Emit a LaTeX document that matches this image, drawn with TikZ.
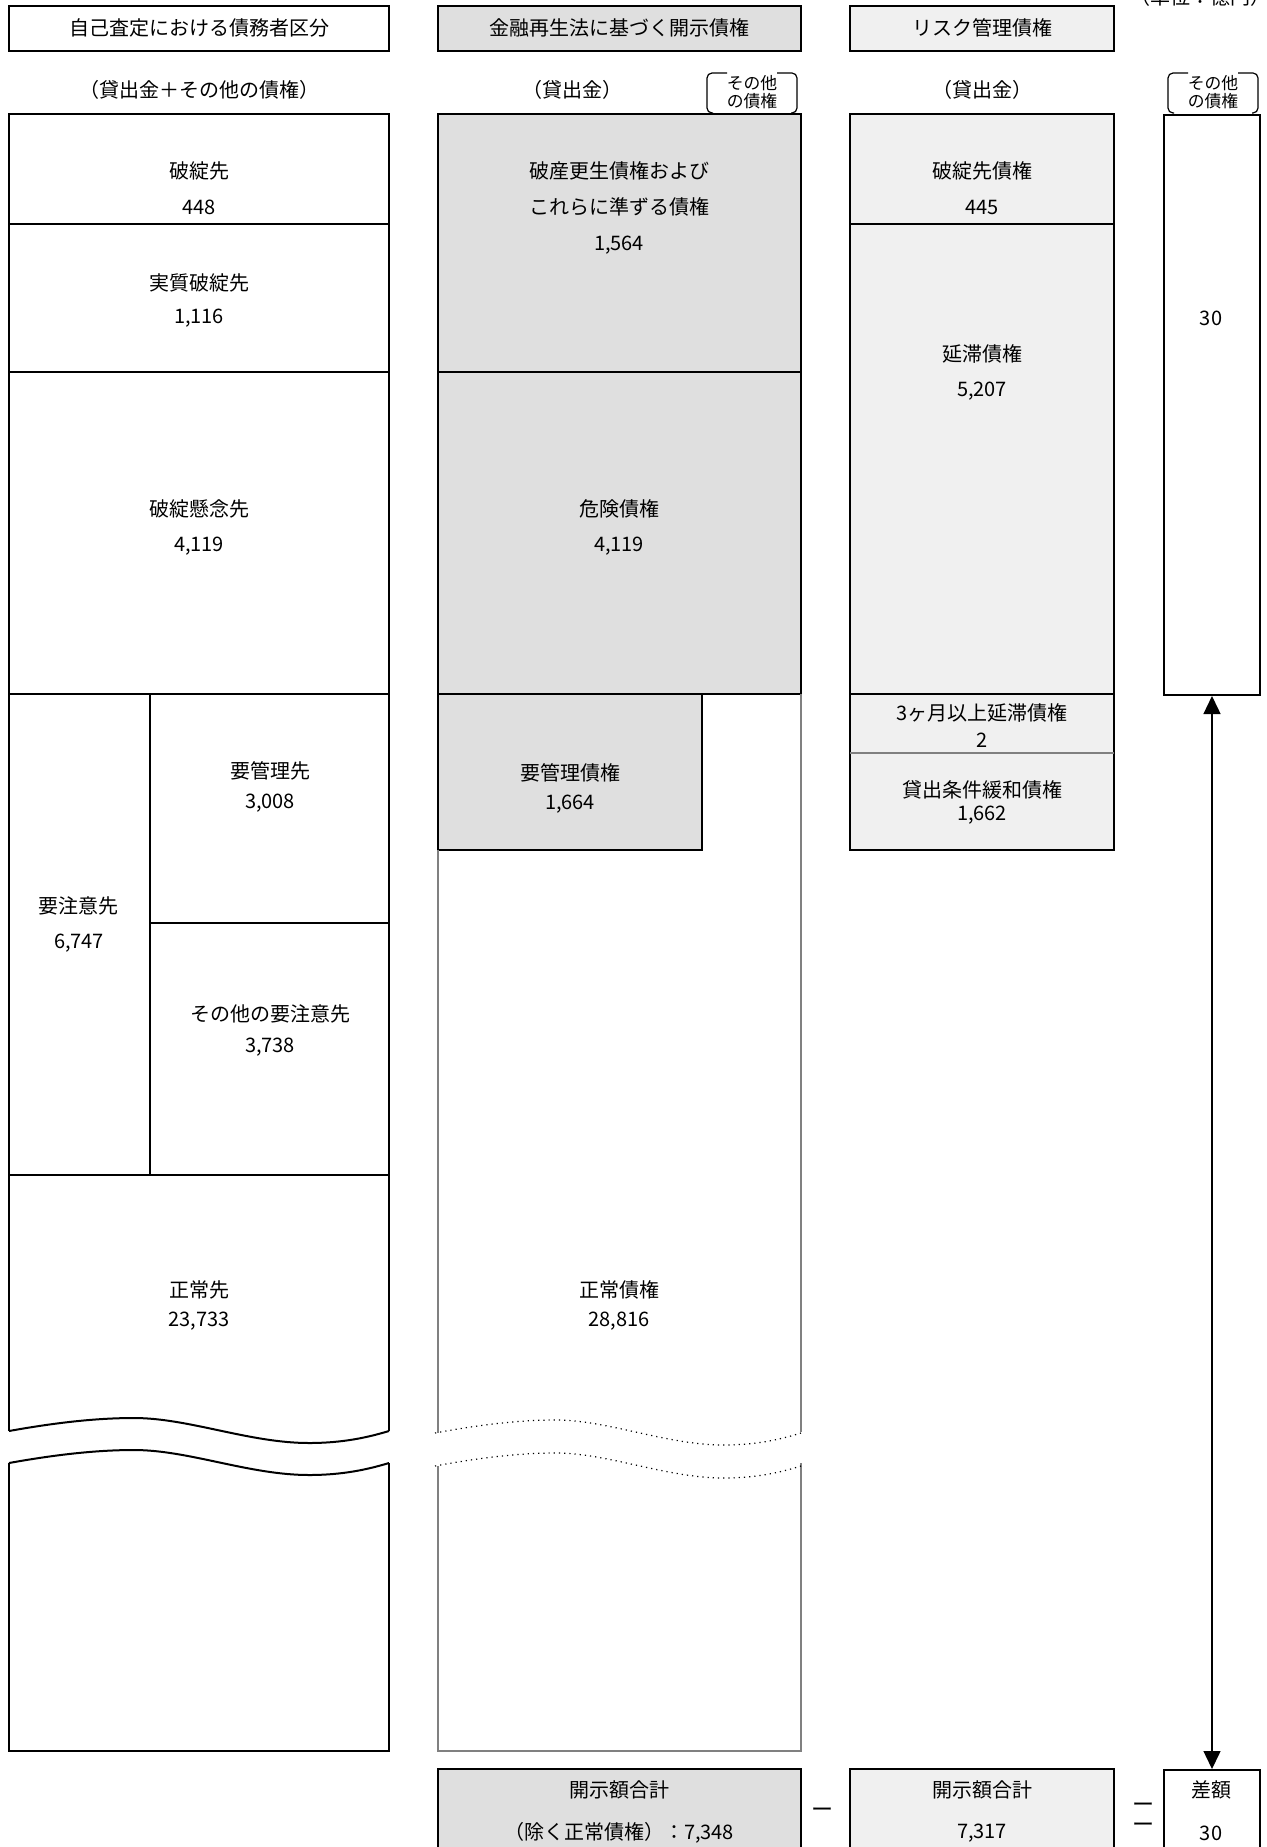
\documentclass[tikz,border=0pt]{standalone}
\usepackage{fontspec}
\setmainfont{Noto Sans CJK JP}
\usetikzlibrary{arrows.meta}
\definecolor{fillA}{HTML}{DFDFDF}
\definecolor{fillB}{HTML}{F0F0F0}
\definecolor{edgegray}{HTML}{808080}
\tikzset{
  breakwave/.pic={
    \draw[pic actions] (0,0) .. controls (50,-9) and (90,-13) .. (125,-13)
      .. controls (180,-13) and (240,12) .. (300,12)
      .. controls (335,12) and (360,6) .. (380,0);
  },
  bigtri/.tip={Triangle[width=8.5pt,length=9pt]}
}
% bracketed label over a column: name, left x, right x
\newcommand{\othersmark}[3]{%
  \draw[line width=0.6pt,rounded corners=2.5pt] (#2+20,73) -- (#2,73) -- (#2,113) -- (#2+6,113);
  \draw[line width=0.6pt,rounded corners=2.5pt] (#3-20,73) -- (#3,73) -- (#3,113) -- (#3-6,113);
  \node[small] (#1a) at ({(#2+#3)/2},83) {その他};
  \node[small] (#1b) at ({(#2+#3)/2},101) {の債権};
}

\begin{document}
\begin{tikzpicture}[x=0.5pt,y=-0.5pt,
    lbl/.style={font=\fontsize{10}{12}\selectfont,inner sep=0pt},
    small/.style={font=\fontsize{8.4}{10}\selectfont,inner sep=0pt},
    box/.style={draw,line width=1pt},
    edge/.style={draw=edgegray,line width=1pt}]
  \useasboundingbox (0,0) rectangle (1266,1847);

  % headings
  \draw[box] (9,6) rectangle (389,51);
  \node[lbl] (headA) at (199,28) {自己査定における債務者区分};
  \draw[box,fill=fillA] (438,6) rectangle (801,51);
  \node[lbl] (headB) at (619,28) {金融再生法に基づく開示債権};
  \draw[box,fill=fillB] (850,6) rectangle (1114,51);
  \node[lbl] (headC) at (982,28) {リスク管理債権};
  \node[lbl] (unit) at (1200,-3) {（単位：億円）};

  \node[lbl] (subA) at (199,90) {（貸出金＋その他の債権）};
  \node[lbl] (subB) at (572,90) {（貸出金）};
  \node[lbl] (subC) at (982,90) {（貸出金）};
  \othersmark{markB}{707}{797}
  \othersmark{markD}{1168}{1258}

  % self-assessment column
  \draw[box] (9,1431) -- (9,114) -- (389,114) -- (389,1431);
  \draw[box] (9,224) -- (389,224);
  \draw[box] (9,372) -- (389,372);
  \draw[box] (9,694) -- (389,694);
  \draw[box] (150,694) -- (150,1175);
  \draw[box] (150,923) -- (389,923);
  \draw[box] (9,1175) -- (389,1175);
  \pic[line width=1pt] at (9,1431) {breakwave};
  \pic[line width=1pt] at (9,1463) {breakwave};
  \draw[box] (9,1463) -- (9,1751) -- (389,1751) -- (389,1463);
  \node[lbl] (hatan) at (199,171) {破綻先};
  \node[lbl] (hatanv) at (199,207) {448};
  \node[lbl] (jissitsu) at (199,283) {実質破綻先};
  \node[lbl] (jissitsuv) at (199,318) {1,116};
  \node[lbl] (kenen) at (199,509) {破綻懸念先};
  \node[lbl] (kenenv) at (199,546) {4,119};
  \node[lbl] (chui) at (79,906) {要注意先};
  \node[lbl] (chuiv) at (79,943) {6,747};
  \node[lbl] (kanri) at (270,771) {要管理先};
  \node[lbl] (kanriv) at (270,803) {3,008};
  \node[lbl] (sonota) at (270,1014) {その他の要注意先};
  \node[lbl] (sonotav) at (270,1047) {3,738};
  \node[lbl] (seijo) at (199,1290) {正常先};
  \node[lbl] (seijov) at (199,1321) {23,733};

  % disclosed claims column
  \fill[fillA] (438,114) rectangle (801,694);
  \fill[fillA] (438,694) rectangle (702,850);
  \draw[box] (438,850) -- (438,114) -- (801,114) -- (801,694) -- (438,694);
  \draw[box] (438,372) -- (801,372);
  \draw[box] (702,694) -- (702,850) -- (438,850);
  \draw[edge] (438,850) -- (438,1433);
  \draw[edge] (801,694) -- (801,1432);
  \draw[edge] (438,1466) -- (438,1751) -- (801,1751) -- (801,1463);
  \pic[dotted,line width=0.6pt,xscale=0.963] at (435,1433) {breakwave};
  \pic[dotted,line width=0.6pt,xscale=0.963] at (435,1466) {breakwave};
  \node[lbl] (hasan1) at (619,171) {破産更生債権および};
  \node[lbl] (hasan2) at (619,207) {これらに準ずる債権};
  \node[lbl] (hasanv) at (619,245) {1,564};
  \node[lbl] (kiken) at (619,509) {危険債権};
  \node[lbl] (kikenv) at (619,546) {4,119};
  \node[lbl] (kanriB) at (570,773) {要管理債権};
  \node[lbl] (kanriBv) at (570,804) {1,664};
  \node[lbl] (seijoB) at (619,1290) {正常債権};
  \node[lbl] (seijoBv) at (619,1321) {28,816};

  % risk-managed claims column
  \draw[box,fill=fillB] (850,114) rectangle (1114,850);
  \draw[box] (850,224) -- (1114,224);
  \draw[box] (850,694) -- (1114,694);
  \draw[edgegray,line width=0.8pt] (850,753) -- (1114,753);
  \node[lbl] (hatanC) at (982,171) {破綻先債権};
  \node[lbl] (hatanCv) at (982,207) {445};
  \node[lbl] (entai) at (982,354) {延滞債権};
  \node[lbl] (entaiv) at (982,391) {5,207};
  \node[lbl] (sankagetsu) at (982,713) {3ヶ月以上延滞債権};
  \node[lbl] (sankagetsuv) at (982,740) {2};
  \node[lbl] (kanwa) at (982,790) {貸出条件緩和債権};
  \node[lbl] (kanwav) at (982,815) {1,662};

  % other claims column
  \node[box,inner sep=0pt,minimum width=48pt,minimum height=290pt,anchor=north west] (others) at (1163,114) {};
  \node[lbl] (othersv) at (1211,318) {30};

  % totals
  \draw[box,fill=fillA] (438,1769) rectangle (801,1880);
  \node[lbl] (totB) at (619,1790) {開示額合計};
  \node[lbl] (totBv) at (619,1833) {（除く正常債権）：7,348};
  \draw[box,fill=fillB] (850,1769) rectangle (1114,1880);
  \node[lbl] (totC) at (982,1790) {開示額合計};
  \node[lbl] (totCv) at (982,1833) {7,317};
  \node[box,inner sep=0pt,minimum width=48pt,minimum height=55pt,anchor=north west] (diff) at (1163,1769) {};
  \node[lbl] (diffl) at (1211,1790) {差額};
  \node[lbl] (diffv) at (1211,1833) {30};
  \node[lbl,font=\fontsize{11}{11}\selectfont] (minus) at (822,1813) {ー};
  \node[lbl,font=\fontsize{11}{10}\selectfont,align=center] (equals) at (1143,1818) {ー\\ー};

  \draw[bigtri-bigtri,line width=0.7pt] (others.south) -- (diff.north);
\end{tikzpicture}
\end{document}
